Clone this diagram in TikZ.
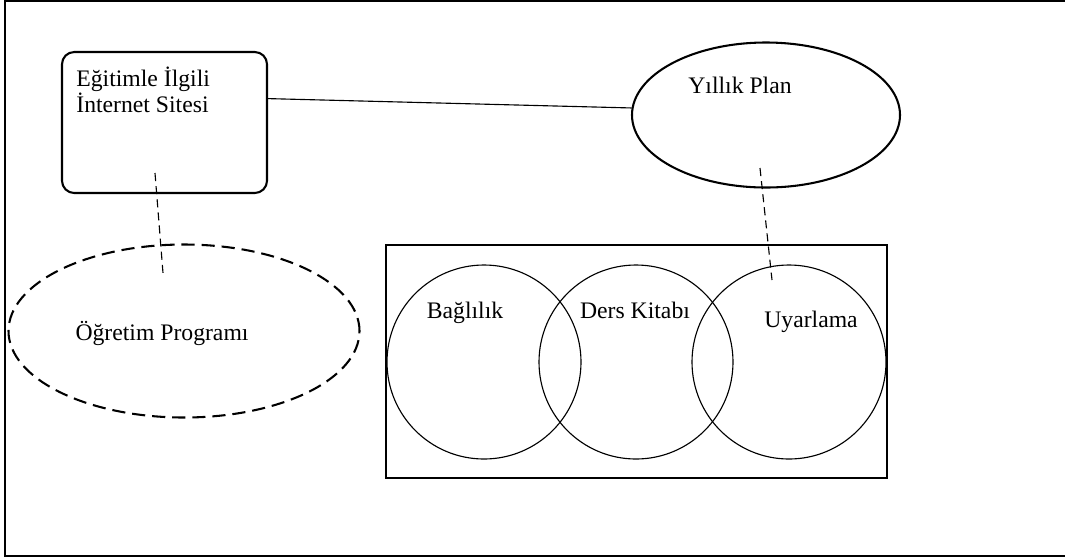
\documentclass[tikz,border=0pt]{standalone}
\usepackage{fontspec}
\setmainfont{Liberation Serif}
\usetikzlibrary{shapes.geometric}

\newcommand\pxl{0.532pt}

\tikzset{
  txt/.style={inner sep=0pt, font=\fontsize{12.6}{14.5}\selectfont},
  kalin/.style={line width=1.1pt},
  ince/.style={line width=0.6pt},
  dline/.style={ince, dash pattern=on 4.3pt off 2.7pt},
}

\begin{document}
\begin{tikzpicture}[x=\pxl, y=-\pxl]
\useasboundingbox (0,0) rectangle (1065,559);
%\draw[help lines] (0,0) grid[step=50] (1065,559);
% cadre
\draw[kalin] (1065,1) -- (5,1) -- (5,556) -- (1065,556);
% formes
\node[draw, kalin, rounded corners=6.5pt, inner sep=0pt,
      minimum width=205*\pxl, minimum height=141*\pxl] (site) at (164.5,122.5) {};
\node[draw, kalin, ellipse, inner sep=0pt,
      minimum width=268*\pxl, minimum height=145*\pxl] (plan) at (766,115) {};
\node[draw, kalin, ellipse, inner sep=0pt, dash pattern=on 7pt off 3.7pt,
      minimum width=351*\pxl, minimum height=173*\pxl] (prog) at (184,331) {};
\node[draw, kalin, inner sep=0pt,
      minimum width=501*\pxl, minimum height=233*\pxl] (kutu) at (636.5,361.5) {};
\node[draw, ince, circle, inner sep=0pt, minimum size=194*\pxl] (bag) at (484,362) {};
\node[draw, ince, circle, inner sep=0pt, minimum size=194*\pxl] (ders) at (636,362) {};
\node[draw, ince, circle, inner sep=0pt, minimum size=194*\pxl] (uyar) at (789,362) {};
% textes
\node[txt, anchor=base west] (site1) at (76,86) {Eğitimle İlgili};
\node[txt, anchor=base west] (site2) at (76,112) {İnternet Sitesi};
\node[txt, anchor=base] (plant) at (740,93) {Yıllık Plan};
\node[txt, anchor=base] (progt) at (162,340) {Öğretim Programı};
\node[txt, anchor=base] (bagt) at (465,318) {Bağlılık};
\node[txt, anchor=base] (derst) at (635,318) {Ders Kitabı};
\node[txt, anchor=base] (uyart) at (811,327) {Uyarlama};
% liens
\draw[ince] (site.13) -- (plan.177);
\draw[dline] ([shift={(-9.5,50.5)}]site.center) -- ([shift={(-21,-58)}]prog.center);
\draw[dline] ([shift={(-6,53)}]plan.center) -- ([shift={(-17,-82)}]uyar.center);
\end{tikzpicture}
\end{document}
